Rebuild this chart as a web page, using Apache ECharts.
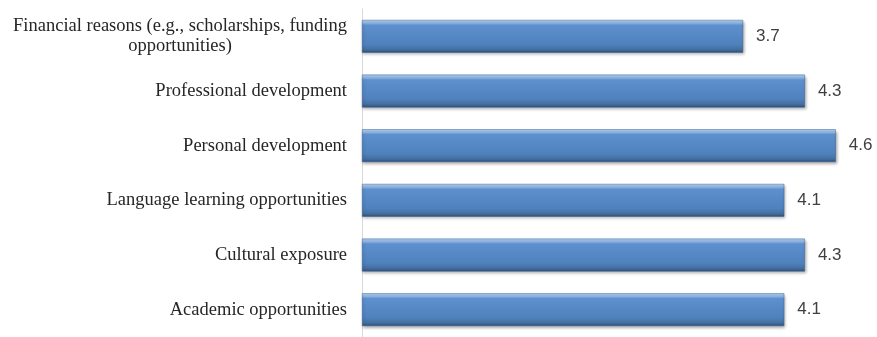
<!DOCTYPE html>
<html><head><meta charset="utf-8">
<script src="https://cdn.jsdelivr.net/npm/echarts@6/dist/echarts.min.js"></script>
<style>html,body{margin:0;padding:0;background:#fff}#c{width:877px;height:337px}</style>
</head><body><div id="c"></div>
<script>
var categories = [
  "Financial reasons (e.g., scholarships, funding\nopportunities)",
  "Professional development",
  "Personal development",
  "Language learning opportunities",
  "Cultural exposure",
  "Academic opportunities"
];
var values = [3.7, 4.3, 4.6, 4.1, 4.3, 4.1];

var chart = echarts.init(document.getElementById('c'));
chart.setOption({
  animation: false,
  grid: { left: 362, right: 0, top: 9, bottom: -5, containLabel: false },
  xAxis: { type: 'value', min: 0, max: 5, show: false },
  yAxis: {
    type: 'category', data: categories, inverse: true,
    axisLine: { show: true, lineStyle: { color: '#d9d9d9', width: 1 } },
    axisTick: { show: false },
    axisLabel: {
      margin: 15,
      fontFamily: 'Liberation Serif', fontSize: 18.5, color: '#262626',
      formatter: function (v) {
        return v.split('\n').map(function (s) { return '{c|' + s + '}'; }).join('\n');
      },
      rich: { c: { align: 'center', fontFamily: 'Liberation Serif', fontSize: 18.5, color: '#262626', lineHeight: 20 } }
    }
  },
  series: [{
    type: 'bar', data: values, barCategoryGap: '40%',
    itemStyle: {
      color: new echarts.graphic.LinearGradient(0, 0, 0, 1, [
        { offset: 0, color: '#b4d2f2' },
        { offset: 0.1, color: '#8fb6e6' },
        { offset: 0.16, color: '#5e90cf' },
        { offset: 0.75, color: '#4f81bd' },
        { offset: 0.9, color: '#44709f' },
        { offset: 1, color: '#2c4f7a' }
      ]),
      borderColor: '#3a6294', borderWidth: 0.5,
      shadowColor: 'rgba(0,0,0,0.35)', shadowBlur: 3, shadowOffsetY: 2, shadowOffsetX: 1
    },
    label: {
      show: true, position: 'right', distance: 13,
      fontFamily: 'Liberation Sans', fontSize: 17, color: '#404040',
      formatter: function (p) { return p.value.toFixed(1); }
    }
  }]
});
</script></body></html>
